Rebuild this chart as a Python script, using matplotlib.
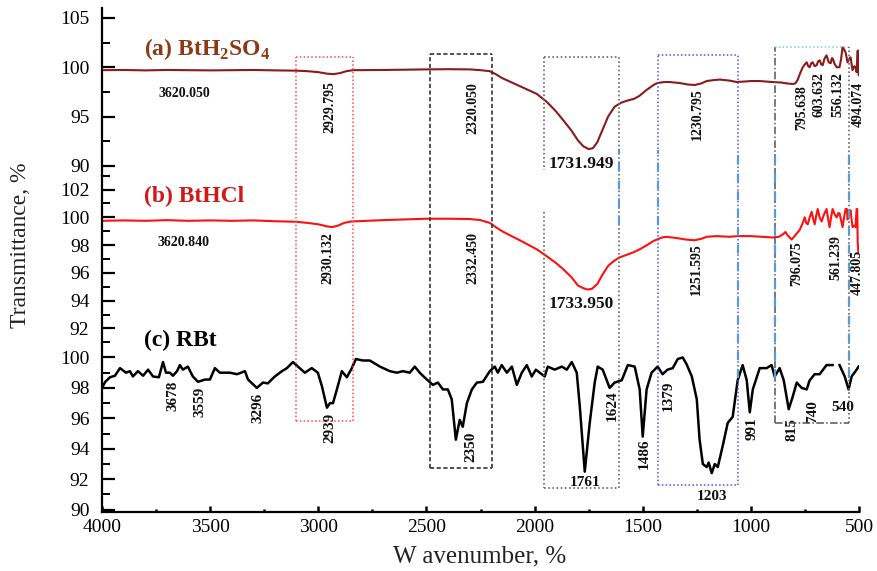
import numpy as np
import matplotlib
matplotlib.use("Agg")
import matplotlib.pyplot as plt

plt.rcParams["font.family"] = ["Liberation Serif", "DejaVu Serif"]
plt.rcParams["mathtext.fontset"] = "custom"
plt.rcParams["mathtext.rm"] = "Liberation Serif"
plt.rcParams["mathtext.bf"] = "Liberation Serif:bold"

# ---------------- spectra (wavenumber, transmittance %) ----------------
wn_a = [4000, 3900, 3800, 3700, 3600, 3500, 3400, 3300, 3200, 3100, 3050, 3000, 2960, 2930,
        2900, 2870, 2840, 2700, 2600, 2500, 2400, 2300, 2250, 2207, 2180, 2150, 2100, 2050,
        1990, 1944, 1900, 1870, 1830, 1800, 1775, 1750, 1730, 1710, 1685, 1660, 1630, 1600,
        1574, 1540, 1515, 1482, 1450, 1431, 1400, 1375, 1330, 1292, 1260, 1230, 1204, 1170,
        1144, 1100, 1066, 1030, 1000, 959, 930, 900, 860, 830, 807, 795, 784, 772, 760, 750,
        742, 735, 728, 721, 714, 705, 696, 689, 682, 675, 668, 659, 650, 640, 631, 626, 622,
        612, 603, 590, 583, 576, 569, 562, 553, 546, 539, 530, 522, 516, 511, 507, 505, 503, 501]
t_a = [99.70, 99.72, 99.68, 99.72, 99.70, 99.68, 99.70, 99.72, 99.68, 99.65, 99.60, 99.50, 99.35, 99.30,
       99.40, 99.60, 99.70, 99.72, 99.75, 99.78, 99.80, 99.78, 99.70, 99.60, 99.30, 98.90, 98.40, 97.90,
       97.30, 96.50, 95.50, 94.70, 93.60, 92.60, 92.00, 91.70, 91.80, 92.40, 93.70, 95.00, 96.00, 96.40,
       96.60, 96.80, 97.10, 97.70, 98.20, 98.40, 98.50, 98.50, 98.40, 98.25, 98.20, 98.35, 98.60, 98.70,
       98.75, 98.65, 98.50, 98.55, 98.60, 98.60, 98.55, 98.50, 98.45, 98.35, 98.30, 98.35, 98.70, 99.40, 100.0, 100.3,
       100.5, 100.1, 100.0, 100.4, 100.5, 100.1, 100.2, 100.6, 100.7, 100.3, 100.2, 100.9, 101.2, 100.5, 100.4, 100.9, 100.9,
       100.3, 100.0, 100.0, 100.8, 102.0, 101.8, 101.5, 100.5, 100.8, 101.0, 99.7, 100.1, 100.0, 99.5, 101.6, 101.7, 99.5, 99.2]

wn_b = [4000, 3900, 3800, 3700, 3600, 3500, 3400, 3300, 3200, 3100, 3050, 3000, 2960, 2935,
        2910, 2880, 2850, 2700, 2600, 2500, 2400, 2300, 2250, 2207, 2180, 2150, 2100, 2050,
        1990, 1944, 1900, 1870, 1830, 1800, 1775, 1755, 1735, 1710, 1685, 1660, 1638, 1610,
        1574, 1540, 1514, 1480, 1450, 1435, 1410, 1390, 1340, 1300, 1260, 1230, 1204, 1160,
        1100, 1060, 1000, 950, 900, 870, 850, 840, 830, 811, 795, 774, 760, 751, 744, 737,
        728, 719, 712, 705, 698, 691, 682, 673, 662, 650, 643, 636, 629, 622, 612, 603, 596,
        590, 583, 576, 569, 562, 556, 553, 546, 539, 534, 530, 522, 516, 511, 508, 506, 503]
t_b = [99.75, 99.78, 99.75, 99.80, 99.75, 99.78, 99.75, 99.78, 99.72, 99.68, 99.60, 99.50, 99.35, 99.30,
       99.40, 99.60, 99.70, 99.80, 99.85, 99.90, 99.90, 99.88, 99.80, 99.60, 99.30, 99.00, 98.60, 98.20,
       97.70, 97.20, 96.70, 96.30, 95.70, 95.10, 94.90, 94.80, 94.85, 95.20, 95.90, 96.50, 96.80, 97.10,
       97.30, 97.50, 97.70, 98.00, 98.30, 98.40, 98.55, 98.60, 98.50, 98.40, 98.35, 98.45, 98.60, 98.65,
       98.60, 98.65, 98.65, 98.60, 98.55, 98.60, 98.80, 98.95, 98.70, 98.40, 98.70, 99.10, 99.60, 100.0, 99.60, 99.50,
       100.0, 100.4, 99.90, 99.50, 100.1, 100.6, 100.0, 99.70, 100.2, 100.6, 99.90, 99.30, 100.0, 100.6, 100.2, 100.0, 100.3,
       100.3, 99.80, 99.30, 100.0, 100.6, 100.6, 99.85, 100.2, 100.5, 99.80, 99.30, 99.40, 99.30, 100.6, 100.6, 98.20, 97.50]

wn_c = [4000, 3985, 3963, 3940, 3917, 3889, 3871, 3857, 3834, 3810, 3787, 3764, 3737, 3718, 3704,
        3686, 3672, 3653, 3640, 3626, 3603, 3580, 3556, 3524, 3501, 3478, 3455, 3430, 3408, 3376,
        3339, 3325, 3284, 3256, 3233, 3201, 3168, 3145, 3117, 3094, 3062, 3030, 3002, 2983, 2960,
        2946, 2932, 2914, 2891, 2868, 2845, 2826, 2794, 2762, 2715, 2669, 2637, 2609, 2577, 2554,
        2531, 2498, 2470, 2447, 2424, 2401, 2383, 2364, 2346, 2332, 2313, 2290, 2267, 2239, 2207,
        2184, 2170, 2152, 2128, 2105, 2082, 2059, 2036, 2013, 1994, 1976, 1953, 1939, 1907, 1874,
        1851, 1828, 1805, 1791, 1768, 1745, 1722, 1708, 1685, 1653, 1630, 1597, 1569, 1537, 1514,
        1500, 1482, 1459, 1431, 1408, 1385, 1361, 1338, 1315, 1297, 1273, 1250, 1237, 1222, 1204,
        1195, 1181, 1167, 1153, 1130, 1107, 1084, 1061, 1038, 1019, 1005, 991, 959, 927, 904,
        890, 867, 848, 825, 807, 788, 765, 742, 728, 705, 682, 650, 622, 606, 590, 566, 548,
        534, 511, 502]
t_c = [98.0, 98.4, 98.7, 98.8, 99.3, 99.0, 99.1, 98.75, 99.1, 98.8, 99.2, 98.75, 98.7, 99.7, 99.0,
       99.0, 98.8, 99.1, 99.5, 99.2, 99.4, 98.75, 98.4, 98.55, 98.55, 99.3, 99.0, 99.0, 99.0, 98.9,
       99.1, 98.55, 98.0, 98.35, 98.3, 98.75, 99.1, 99.3, 99.7, 99.4, 99.0, 99.3, 99.0, 98.1, 96.7,
       97.0, 97.0, 97.9, 99.1, 98.7, 99.3, 99.9, 99.8, 99.8, 99.4, 99.1, 99.0, 99.1, 99.0, 99.4,
       99.0, 98.55, 98.2, 98.35, 97.9, 97.9, 97.25, 94.6, 95.9, 95.45, 97.0, 97.9, 98.35, 98.4, 99.1,
       99.4, 99.0, 99.5, 99.0, 99.4, 98.2, 99.0, 99.5, 98.75, 99.2, 99.0, 98.75, 99.4, 99.2, 99.4,
       99.2, 99.7, 99.0, 96.8, 92.5, 95.7, 98.35, 99.4, 99.2, 98.0, 98.35, 98.5, 99.5, 99.4, 97.9,
       94.8, 97.9, 99.0, 99.4, 98.9, 99.2, 99.3, 99.9, 100.0, 99.55, 98.75, 97.25, 94.6, 93.0, 92.8,
       93.1, 92.4, 93.0, 92.8, 94.2, 95.7, 96.1, 98.5, 99.5, 98.5, 96.4, 97.9, 99.3, 99.3, 99.5,
       98.75, 99.3, 98.5, 96.6, 97.4, 98.35, 98.0, 97.9, 98.5, 98.9, 98.9, 99.5, 99.5, np.nan, 99.5, 98.75, 97.9,
       98.75, 99.2, 99.4]

# ---------------- peak annotations: (text, wavenumber, transmittance, rotation, size) ----------------
peaks_a = [("3620.050", 3621, 97.3, 0, 10), ("2929.795", 2946, 95.95, 90, 10),
           ("2320.050", 2286, 95.85, 90, 10), ("1731.949", 1786, 90.2, 0, 12.5),
           ("1230.795", 1246, 95.25, 90, 10), ("795.638", 765, 95.9, 90, 10),
           ("603.632", 687, 97.25, 90, 10), ("556.132", 599, 97.2, 90, 10),
           ("494.074", 502, 96.25, 90, 10)]
peaks_b = [("3620.840", 3621, 98.2, 0, 10), ("2930.132", 2956, 97.1, 90, 10),
           ("2332.450", 2286, 97.1, 90, 10), ("1733.950", 1786, 93.75, 0, 12.5),
           ("1251.595", 1250, 96.3, 90, 10), ("796.075", 788, 96.7, 90, 10),
           ("561.239", 608, 97.1, 90, 10), ("447.805", 506, 96.0, 90, 10)]
peaks_c = [("3678", 3672, 97.5, 90, 11), ("3559", 3547, 97.1, 90, 11), ("3296", 3279, 96.7, 90, 11),
           ("2939", 2946, 95.4, 90, 11), ("2350", 2295, 94.15, 90, 11), ("1761", 1768, 91.8, 0, 11),
           ("1624", 1639, 96.8, 90, 11), ("1486", 1491, 93.7, 90, 11), ("1379", 1384, 97.5, 90, 11),
           ("1203", 1181, 90.85, 0, 11), ("991", 996, 95.3, 90, 11), ("815", 812, 95.3, 90, 11),
           ("740", 714, 96.45, 90, 11), ("540", 576, 96.7, 0, 11)]

panel_titles = [r"(a) BtH$_\mathbf{2}$SO$_\mathbf{4}$", "(b) BtHCl", "(c) RBt"]
y_limits = [(89.08, 106.0), (90.95, 103.05), (89.85, 100.95)]
y_major = [[90, 95, 100, 105], [92, 94, 96, 98, 100, 102], [90, 92, 94, 96, 98, 100]]
y_minor = [[92.5, 97.5, 102.5], [91, 93, 95, 97, 99, 101, 103], [91, 93, 95, 97, 99]]
x_major = [4000, 3500, 3000, 2500, 2000, 1500, 1000, 500]

line_colors = ["#8B1A1A", "#FF1010", "#000000"]
title_colors = ["#8B3A16", "#D01818", "#000000"]

# ---------------- figure layout ----------------
W, H = 877, 571
fig = plt.figure(figsize=(W / 100, H / 100), dpi=100)
left = 102 / W
width = (859 - 102) / W
bounds_px = [(8, 175), (175, 343), (343, 512)]

axes = []
for i, (t, b) in enumerate(bounds_px):
    ax = fig.add_axes([left, 1 - b / H, width, (b - t) / H])
    ax.set_xlim(4000, 500)
    ax.set_ylim(*y_limits[i])
    ax.patch.set_visible(False)
    for s in ["top", "right", "bottom"]:
        ax.spines[s].set_visible(False)
    ax.spines["left"].set_linewidth(1.6)
    ax.set_yticks(y_major[i])
    ax.set_yticks(y_minor[i], minor=True)
    ax.tick_params(axis="y", which="major", direction="in", length=9, width=1.6,
                   labelsize=14, pad=9)
    ax.tick_params(axis="y", which="minor", direction="in", length=5.5, width=1.4)
    if i < 2:
        ax.set_xticks([])
    axes.append(ax)

ax_a, ax_b, ax_c = axes
ax_c.spines["bottom"].set_visible(True)
ax_c.spines["bottom"].set_linewidth(1.6)
ax_c.set_xticks(x_major)
ax_c.set_xticks([3750, 3250, 2750, 2250, 1750, 1250, 750], minor=True)
ax_c.tick_params(axis="x", which="major", direction="in", length=4.5, width=1.8,
                 labelsize=14, pad=5)
ax_c.tick_params(axis="x", which="minor", direction="in", length=2.5, width=1.8)

ax_a.plot(wn_a, t_a, color=line_colors[0], lw=1.5)
ax_b.plot(wn_b, t_b, color=line_colors[1], lw=1.5)
ax_c.plot(wn_c, t_c, color=line_colors[2], lw=1.8)

for ax, peaks in [(ax_a, peaks_a), (ax_b, peaks_b), (ax_c, peaks_c)]:
    for txt, x, y, rot, fs in peaks:
        ax.text(x, y, txt, rotation=rot, ha="center", va="center",
                fontsize=fs, fontweight="bold", color="#111111")

title_pos = [(ax_a, 3805, 101.8), (ax_b, 3805, 101.5), (ax_c, 3805, 101.1)]
for (ax, x, y), txt, c in zip(title_pos, panel_titles, title_colors):
    ax.text(x, y, txt, ha="left", va="center", fontsize=17, fontweight="bold", color=c)

# ---------------- highlight boxes spanning all panels ----------------
ov = fig.add_axes([left, 1 - 512 / H, width, (512 - 8) / H])
ov.set_xlim(4000, 500)
ov.set_ylim(0, 1)
ov.axis("off")
ov.patch.set_visible(False)


def edges(x0, x1, y0, y1, color, ls, lw, skip=()):
    sides = {"top": ([x0, x1], [y1, y1]), "bottom": ([x0, x1], [y0, y0]),
             "left": ([x0, x0], [y0, y1]), "right": ([x1, x1], [y0, y1])}
    for k, (xs, ys) in sides.items():
        if k not in skip:
            ov.plot(xs, ys, color=color, ls=ls, lw=lw)


edges(3104, 2840, 0.181, 0.903, "#FF4A4A", (0, (1, 1.5)), 1.1)
edges(2484, 2198, 0.087, 0.909, "#333333", (0, (2.5, 1.5)), 1.2)
edges(1957, 1611, 0.048, 0.903, "#666666", (0, (1, 1.5)), 1.2, skip=("left",))
ov.plot([1957, 1957], [0.903, 0.679], color="#666666", ls=(0, (1, 1.5)), lw=1.2)
ov.plot([1957, 1957], [0.595, 0.048], color="#666666", ls=(0, (1, 1.5)), lw=1.2)
edges(1431, 1061, 0.054, 0.907, "#5050F0", (0, (1, 1.5)), 1.1)
edges(890, 548, 0.177, 0.923, "#555555", (0, (5, 1.5, 1, 1.5)), 1.1, skip=("top", "right"))
ov.plot([890, 548], [0.923, 0.923], color="#8CC0EA", ls=(0, (1, 1.5)), lw=1.1)
ov.plot([548, 548], [0.177, 0.923], color="#666666", ls=(0, (1, 1.5)), lw=1.2)

for x in [1611, 1431]:
    ov.plot([x, x], [0.569, 0.718], color="#5B9BD5", ls=(0, (4, 4)), lw=1.6)
for x in [1061, 890, 548]:
    ov.plot([x, x], [0.266, 0.718], color="#5B9BD5", ls=(0, (4, 4)), lw=1.6)

fig.text(21 / W, 1 - 245 / H, "Transmittance, %", rotation=90, ha="center", va="center",
         fontsize=17, color="#222222")
fig.text(480 / W, 1 - 556 / H, "W avenumber, %", ha="center", va="center",
         fontsize=18, color="#222222")

fig.savefig("out.png", dpi=100)
